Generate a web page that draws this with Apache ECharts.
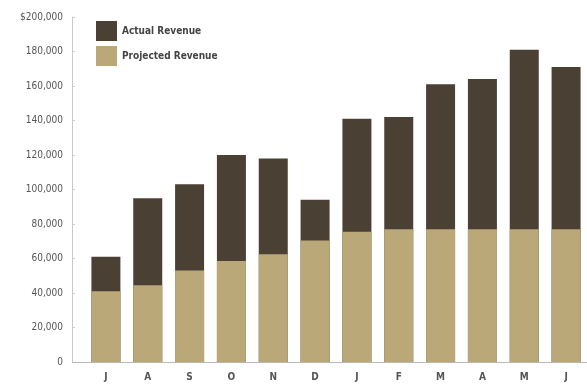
<!DOCTYPE html>
<html>
<head>
<meta charset="utf-8">
<script src="https://cdn.jsdelivr.net/npm/echarts@6/dist/echarts.min.js"></script>
<style>
html,body{margin:0;padding:0;background:#fff;}
#c{width:587px;height:385px;}
</style>
</head>
<body>
<div id="c"></div>
<script>
const categories = ['J','A','S','O','N','D','J','F','M','A','M','J'];
const actualRevenue = [61000, 95000, 103000, 120000, 118000, 94000, 141000, 142000, 161000, 164000, 181000, 171000];
const projectedRevenue = [41000, 44500, 53000, 58500, 62500, 70500, 75500, 77000, 77000, 77000, 77000, 77000];
const yTicks = [0, 20000, 40000, 60000, 80000, 100000, 120000, 140000, 160000, 180000, 200000];

const font = "'Liberation Sans Narrow','DejaVu Sans Condensed','Roboto',sans-serif";
const chart = echarts.init(document.getElementById('c'));
chart.setOption({
  animation: false,
  backgroundColor: '#fff',
  grid: {left: 85, top: 17, width: 504, height: 345},
  legend: {
    orient: 'vertical', left: 96, top: 21, padding: 0,
    itemWidth: 21, itemHeight: 20, itemGap: 5,
    icon: 'rect',
    textStyle: {fontFamily: font, fontSize: 10, color: '#444', fontWeight: 'bold'},
    data: ['Actual Revenue', 'Projected Revenue']
  },
  xAxis: {
    type: 'category', data: categories,
    axisLine: {lineStyle: {color: '#b8b8b8', width: 1}},
    axisTick: {show: false},
    axisLabel: {fontFamily: font, fontSize: 10, color: '#555', margin: 10, fontWeight: 'bold'}
  },
  yAxis: {
    type: 'value', min: yTicks[0], max: yTicks[yTicks.length-1], interval: 20000,
    offset: 13,
    splitLine: {show: false},
    axisLine: {show: true, lineStyle: {color: '#c8c8c8'}},
    axisTick: {show: true, inside: true, length: 3, lineStyle: {color: '#ccc'}},
    axisLabel: {
      fontFamily: font, fontSize: 10, color: '#555', margin: 9,
      formatter: function (v) {
        const s = v.toLocaleString('en-US');
        return v === 200000 ? '$' + s : s;
      }
    }
  },
  graphic: [{
    type: 'line', shape: {x1: 72, y1: 362.5, x2: 86, y2: 362.5},
    style: {stroke: '#b8b8b8', lineWidth: 1}, z: 10
  }],
  series: [
    {name: 'Actual Revenue', type: 'bar', data: actualRevenue, barWidth: 29, barGap: '-100%',
     itemStyle: {color: '#4b4034'}},
    {name: 'Projected Revenue', type: 'bar', data: projectedRevenue, barWidth: 29,
     itemStyle: {color: '#baa878'}}
  ]
});
</script>
</body>
</html>
